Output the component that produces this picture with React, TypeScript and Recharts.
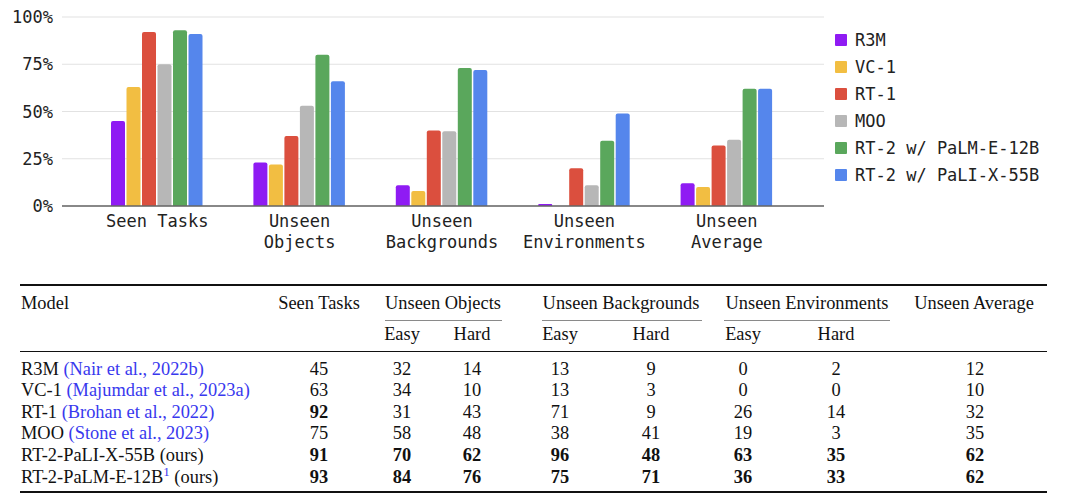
import React from 'react';
import { BarChart, Bar, XAxis, YAxis, CartesianGrid, Legend } from 'recharts';

// ---------- chart data ----------
const categories = ['Seen Tasks', 'Unseen Objects', 'Unseen Backgrounds', 'Unseen Environments', 'Unseen Average'];
const tickLabels = [['Seen Tasks'], ['Unseen', 'Objects'], ['Unseen', 'Backgrounds'], ['Unseen', 'Environments'], ['Unseen', 'Average']];
const seriesNames = ['R3M', 'VC-1', 'RT-1', 'MOO', 'RT-2 w/ PaLM-E-12B', 'RT-2 w/ PaLI-X-55B'];
const seriesColors = ['#8F1BF3', '#F2BE42', '#DB4F3E', '#B7B7B7', '#5AA75C', '#5586EC'];
const r3m = [45, 23, 11, 1, 12];
const vc1 = [63, 22, 8, 0, 10];
const rt1 = [92, 37, 40, 20, 32];
const moo = [75, 53, 39.5, 11, 35];
const rt2Palm = [93, 80, 73, 34.5, 62];
const rt2Pali = [91, 66, 72, 49, 62];
const yTicks = [0, 25, 50, 75, 100];

const seriesValues = [r3m, vc1, rt1, moo, rt2Palm, rt2Pali];
const chartData = categories.map((c, i) => {
  const row: any = { category: c };
  seriesNames.forEach((n, s) => { row[n] = seriesValues[s][i]; });
  return row;
});

// ---------- table data ----------
const tableModels = ['R3M', 'VC-1', 'RT-1', 'MOO', 'RT-2-PaLI-X-55B', 'RT-2-PaLM-E-12B'];
const tableCitations = ['Nair et al., 2022b', 'Majumdar et al., 2023a', 'Brohan et al., 2022', 'Stone et al., 2023', '', ''];
const tableSuperscripts = ['', '', '', '', '', '1'];
const tableOurs = [false, false, false, false, true, true];
const headerGroups = ['Seen Tasks', 'Unseen Objects', 'Unseen Backgrounds', 'Unseen Environments', 'Unseen Average'];
const subHeaders = ['Easy', 'Hard'];
const tableValues = [
  [45, 32, 14, 13, 9, 0, 2, 12],
  [63, 34, 10, 13, 3, 0, 0, 10],
  [92, 31, 43, 71, 9, 26, 14, 32],
  [75, 58, 48, 38, 41, 19, 3, 35],
  [91, 70, 62, 96, 48, 63, 35, 62],
  [93, 84, 76, 75, 71, 36, 33, 62],
];
const tableBold = [
  [0, 0, 0, 0, 0, 0, 0, 0],
  [0, 0, 0, 0, 0, 0, 0, 0],
  [1, 0, 0, 0, 0, 0, 0, 0],
  [0, 0, 0, 0, 0, 0, 0, 0],
  [1, 1, 1, 1, 1, 1, 1, 1],
  [1, 1, 1, 1, 1, 1, 1, 1],
];

// ---------- layout ----------
const MONO = '"DejaVu Sans Mono", monospace';
const SERIF = '"Liberation Serif", serif';
const LINK = '#3838EE';
const valueCenters = [319, 402, 472, 560, 651, 743, 836, 975];
const groupCenters = [319, 443, 621, 807, 974];
const cmidRules = [[385, 502], [542, 702], [724, 890]];
const rowBaselines = [375.7, 397, 418.5, 440, 461.7, 483.3];
const BASE_OFF = 16.8;

const XTick = (props: any) => {
  const { x, y, payload } = props;
  const idx = categories.indexOf(payload.value);
  const lines = tickLabels[idx] || [payload.value];
  return (
    <text x={x} y={y} textAnchor="middle" fill="#222" fontFamily={MONO} fontSize={17}>
      {lines.map((l, i) => (
        <tspan key={i} x={x} y={y + 21 + i * 21}>{l}</tspan>
      ))}
    </text>
  );
};

const renderLegend = () => (
  <div style={{ fontFamily: MONO, fontSize: 17, color: '#222' }}>
    {seriesNames.map((n, i) => (
      <div key={n} style={{ height: 27, display: 'flex', alignItems: 'center' }}>
        <div style={{ width: 12, height: 12, background: seriesColors[i], marginRight: 8, borderRadius: 1 }} />
        <span style={{ whiteSpace: 'nowrap' }}>{n}</span>
      </div>
    ))}
  </div>
);

const cellStyle = (center: number, baseline: number, bold: boolean): React.CSSProperties => ({
  position: 'absolute',
  left: center,
  top: baseline - BASE_OFF,
  transform: 'translateX(-50%)',
  whiteSpace: 'nowrap',
  fontWeight: bold ? 700 : 400,
});

export default function App() {
  return (
    <div style={{ position: 'absolute', left: 0, top: 0, width: 1080, height: 502, background: '#fff', overflow: 'hidden' }}>
      <BarChart
        width={1080}
        height={270}
        data={chartData}
        margin={{ top: 17, right: 256, left: 0, bottom: 0 }}
        barGap={1.5}
      >
        <CartesianGrid horizontal vertical={false} stroke="#e2e2e2" strokeWidth={1.2} />
        <XAxis
          dataKey="category"
          height={64}
          tickLine={false}
          tickSize={0}
          tickMargin={0}
          interval={0}
          padding={{ left: 24, right: 26 }}
          axisLine={{ stroke: '#666', strokeWidth: 1.5 }}
          tick={<XTick />}
        />
        <YAxis
          width={62}
          domain={[0, 100]}
          ticks={yTicks}
          axisLine={false}
          tickLine={false}
          tickSize={0}
          tickMargin={9}
          tickFormatter={(v: number) => `${v}%`}
          tick={{ fontFamily: MONO, fontSize: 17, fill: '#222' }}
        />
        <Legend
          layout="horizontal"
          verticalAlign="middle"
          align="center"
          content={renderLegend}
          wrapperStyle={{ left: 835, top: 26, width: 240, height: 170 }}
        />
        {seriesNames.map((n, i) => (
          <Bar key={n} dataKey={n} fill={seriesColors[i]} barSize={14} radius={[2, 2, 0, 0]} isAnimationActive={false} />
        ))}
      </BarChart>

      <div style={{ position: 'absolute', left: 0, top: 0, width: 1080, height: 502, fontFamily: SERIF, fontSize: 18.4, lineHeight: '21px', color: '#111' }}>
        {/* rules */}
        <div style={{ position: 'absolute', left: 20, width: 1027, top: 283.5, height: 2.2, background: '#111' }} />
        <div style={{ position: 'absolute', left: 20, width: 1027, top: 351, height: 1.4, background: '#111' }} />
        <div style={{ position: 'absolute', left: 20, width: 1027, top: 490.5, height: 2.2, background: '#111' }} />
        {cmidRules.map(([a, b], i) => (
          <div key={i} style={{ position: 'absolute', left: a, width: b - a, top: 319.5, height: 1.3, background: '#8a8a8a' }} />
        ))}

        {/* header row 1 */}
        <div style={{ position: 'absolute', left: 21, top: 309.3 - BASE_OFF, whiteSpace: 'nowrap' }}>Model</div>
        {headerGroups.map((h, i) => (
          <div key={h} style={cellStyle(groupCenters[i], 309.3, false)}>{h}</div>
        ))}
        {/* header row 2 */}
        {valueCenters.slice(1, 7).map((c, i) => (
          <div key={i} style={cellStyle(c, 341, false)}>{subHeaders[i % 2]}</div>
        ))}

        {/* body */}
        {tableModels.map((m, r) => (
          <React.Fragment key={m}>
            <div style={{ position: 'absolute', left: 21, top: rowBaselines[r] - BASE_OFF, whiteSpace: 'nowrap' }}>
              {m}
              {tableSuperscripts[r] ? <sup style={{ fontSize: 13, lineHeight: 0, verticalAlign: 'super', color: LINK }}>{tableSuperscripts[r]}</sup> : null}
              {tableCitations[r] ? (
                <> <span style={{ color: LINK }}>({tableCitations[r]})</span></>
              ) : null}
              {tableOurs[r] ? ' (ours)' : null}
            </div>
            {tableValues[r].map((v, c) => (
              <div key={c} style={cellStyle(valueCenters[c], rowBaselines[r], !!tableBold[r][c])}>{v}</div>
            ))}
          </React.Fragment>
        ))}
      </div>
    </div>
  );
}
